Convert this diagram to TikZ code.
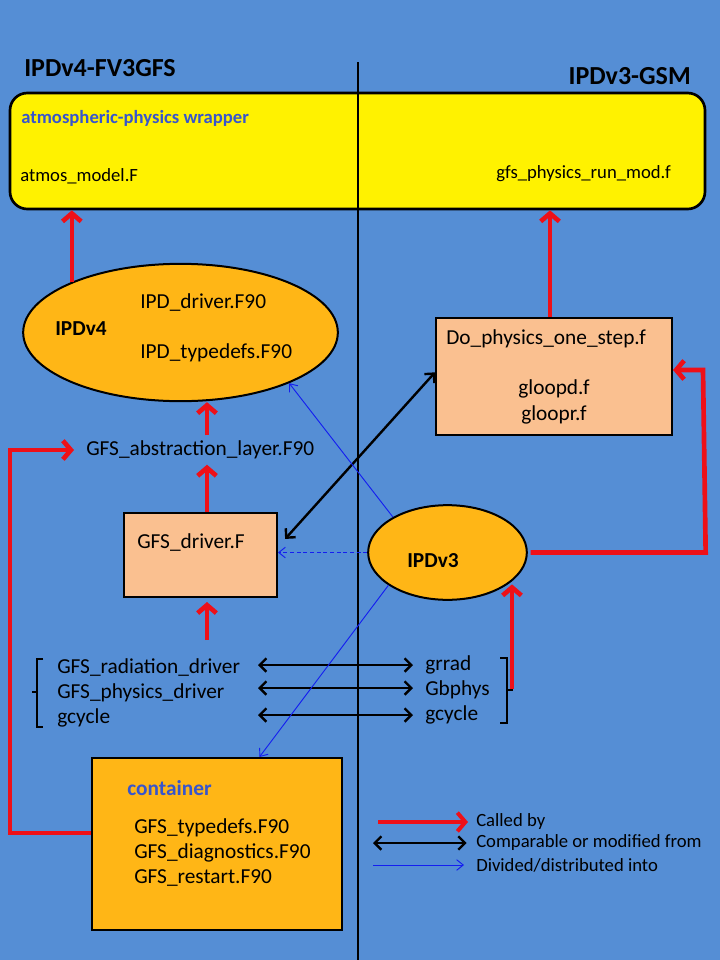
\documentclass[tikz,border=0pt]{standalone}
\usepackage{fontspec}
\setmainfont{Carlito}
\usetikzlibrary{arrows.meta,shapes.geometric,fit}
\definecolor{bgblue}{RGB}{85,142,213}
\definecolor{peach}{RGB}{250,192,144}
\definecolor{orng}{RGB}{255,182,22}
\definecolor{wblue}{RGB}{55,85,205}
\definecolor{cred}{RGB}{238,16,24}
\definecolor{ablue}{RGB}{20,30,240}
\tikzset{
  txt/.style={inner sep=0pt, anchor=west, font=\fontsize{16}{19}\selectfont},
  smtxt/.style={inner sep=0pt, anchor=west, font=\fontsize{14}{17}\selectfont},
  bldtxt/.style={inner sep=0pt, anchor=west, font=\bfseries\fontsize{16}{19}\selectfont},
  ttltxt/.style={inner sep=0pt, font=\bfseries\fontsize{19.5}{23}\selectfont},
  boxnode/.style={draw=black, line width=1.5pt, inner sep=0pt},
  ellnode/.style={draw=black, ellipse, fill=orng, line width=1.5pt, inner sep=0pt},
  redarr/.style={draw=cred, line width=3.5pt, line join=miter, -{Straight Barb[length=6pt,width=14pt]}},
  blkarr/.style={draw=black, line width=1.8pt, {Straight Barb[length=5pt,width=10pt]}-{Straight Barb[length=5pt,width=10pt]}},
  bluarr/.style={draw=ablue, line width=0.7pt, -{Straight Barb[length=5pt,width=8pt]}},
}
\begin{document}
\begin{tikzpicture}[x=0.75pt,y=-0.75pt]
\fill[bgblue] (0,0) rectangle (720,960);
\useasboundingbox (0,0) rectangle (720,960);

% titles
\node[ttltxt, anchor=west] (t1) at (24,68) {IPDv4-FV3GFS};
\node[ttltxt, anchor=east] (t2) at (691,76) {IPDv3-GSM};

% wrapper
\node[boxnode, line width=2pt, fill=yellow, rounded corners=13pt, fit={(10,93)(705,209)}] (wrap) {};
\node[smtxt, font=\bfseries\fontsize{14}{17}\selectfont, text=wblue] (wtitle) at (21,118) {atmospheric-physics wrapper};
\node[smtxt] (atmos) at (20,176) {atmos\_model.F};
\node[smtxt, anchor=east] (gfsrun) at (671,174) {gfs\_physics\_run\_mod.f};

% divider
\coordinate (dtop) at (358,62);
\coordinate (dbot) at (358,960);
\draw[line width=1.5pt] (dtop) -- (dbot);

% IPDv4 ellipse
\node[ellnode, minimum width=236pt, minimum height=103pt] (ipd4) at (180.5,332.5) {};
\node[bldtxt] (ipd4lbl) at (55,329) {IPDv4};
\node[txt] (ipddrv) at (140,303) {IPD\_driver.F90};
\node[txt] (ipdtd) at (140,353) {IPD\_typedefs.F90};

% abstraction layer
\node[txt, inner ysep=4pt] (abs) at (86,450) {GFS\_abstraction\_layer.F90};

% GFS driver
\node[boxnode, fill=peach, fit={(124,513)(277,597)}] (gdrv) {};
\node[txt] (gdrvlbl) at (137,543) {GFS\_driver.F};

% Do physics
\node[boxnode, fill=peach, fit={(436,318)(672,435)}] (dops) {};
\node[txt] (dopslbl) at (446,339) {Do\_physics\_one\_step.f};
\node[txt, anchor=center] (gloopd) at (554,389) {gloopd.f};
\node[txt, anchor=center] (gloopr) at (554,415) {gloopr.f};

% IPDv3 ellipse
\node[ellnode, minimum width=119pt, minimum height=71pt] (ipd3) at (447.5,552.5) {};
\node[bldtxt] (ipd3lbl) at (407,561) {IPDv3};

% lists
\node[txt] (l1) at (57,668) {GFS\_radiation\_driver};
\node[txt] (l2) at (57,693) {GFS\_physics\_driver};
\node[txt] (l3) at (57,718) {gcycle};
\node[txt] (r1) at (425,665) {grrad};
\node[txt] (r2) at (425,690) {Gbphys};
\node[txt] (r3) at (425,715) {gcycle};
\draw[line width=1.5pt] (43,659) -- (37,659) -- (37,727) -- (43,727);
\draw[line width=1.5pt] (37,692) -- (32,692);
\draw[line width=1.5pt] (500,658) -- (507,658) -- (507,723) -- (500,723);
\draw[line width=1.5pt] (507,690) -- (513,690);

% container
\node[boxnode, fill=orng, fit={(92,758)(342,930)}] (cont) {};
\node[bldtxt, text=wblue] (conttl) at (127,788) {container};
\node[txt] (c1) at (134,828) {GFS\_typedefs.F90};
\node[txt] (c2) at (134,853) {GFS\_diagnostics.F90};
\node[txt] (c3) at (134,878) {GFS\_restart.F90};

% helper coordinates
\coordinate (colA) at (207,0);
\coordinate (listtop) at (207,640);
\coordinate (lcol) at (10,0);
\coordinate (rcol) at (703,370);
\coordinate (rbr) at (512,689);
\coordinate (ax) at (258,0);
\coordinate (bx) at (413,0);

% red "called by"
\draw[redarr] (ipd4.155) -- (ipd4.155 |- wrap.south);
\draw[redarr] ([xshift=-3pt]dops.north) -- ([xshift=-3pt]dops.north |- wrap.south);
\draw[redarr] (colA |- abs.north) -- (colA |- ipd4.south);
\draw[redarr] (colA |- gdrv.north) -- (colA |- abs.south);
\draw[redarr, shorten >=3pt] (listtop) -- (listtop |- gdrv.south);
\draw[redarr, shorten >=3pt] (rbr) -- (rbr |- ipd3.-23);
\draw[redarr] ([xshift=2pt]ipd3.east) -- ([xshift=2pt]ipd3.east -| rcol) -- (rcol) -- (rcol -| dops.east);
\draw[redarr, shorten >=9pt] (cont.175) -- (cont.175 -| lcol) -- (lcol |- abs.west) -- (abs.west);

% black "comparable"
\draw[blkarr, shorten <=0pt, shorten >=8pt] (dops.178) -- (gdrv.6);
\draw[blkarr] (ax |- r1) -- (bx |- r1);
\draw[blkarr] (ax |- 0,688) -- (bx |- 0,688);
\draw[blkarr] (ax |- r3) -- (bx |- r3);

% blue "divided into"
\draw[bluarr] (ipd3.147) -- (ipd4.-25);
\draw[bluarr, dash pattern=on 3pt off 2pt] (ipd3.west) -- (ipd3.west -| gdrv.east);
\draw[bluarr] (ipd3.209) -- (cont.64.5);

% legend
\coordinate (lg1s) at (378,822);
\coordinate (lg2s) at (373,843);
\coordinate (lg3s) at (373,865);
\node[smtxt] (lg1) at (476,822) {Called by};
\node[smtxt] (lg2) at (476,843) {Comparable or modified from};
\node[smtxt] (lg3) at (476,865) {Divided/distributed into};
\draw[redarr, line width=3pt, shorten >=6pt] (lg1s) -- (lg1.west);
\draw[blkarr, shorten >=7pt] (lg2s) -- (lg2.west);
\draw[bluarr, shorten >=9pt] (lg3s) -- (lg3.west);
\end{tikzpicture}
\end{document}
